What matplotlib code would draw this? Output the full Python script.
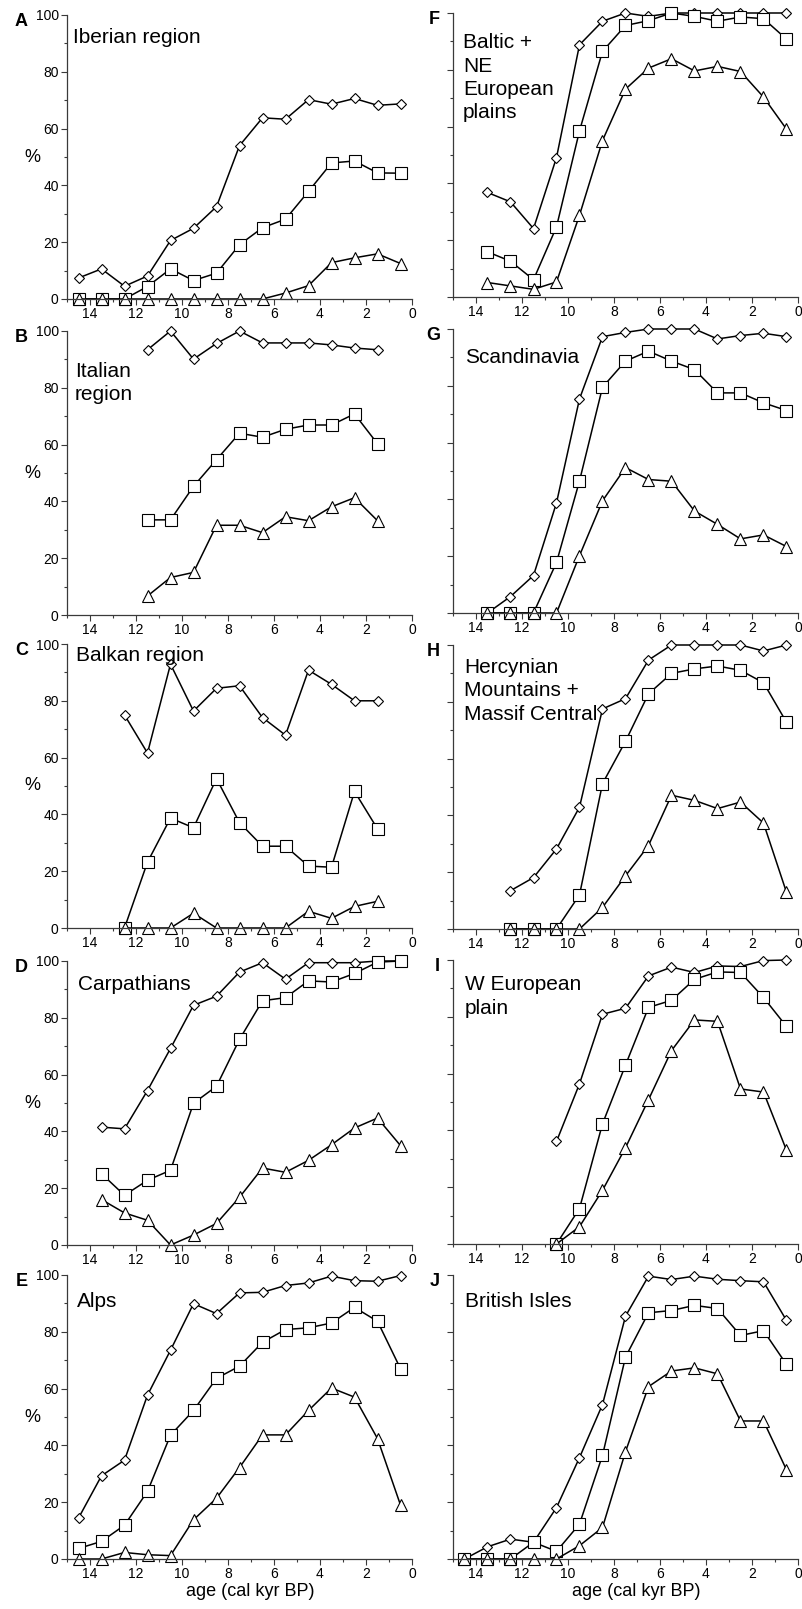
import numpy as np
import matplotlib.pyplot as plt
from matplotlib.ticker import MultipleLocator

plt.rcParams['font.family'] = ['Liberation Sans', 'DejaVu Sans']

n = np.nan
ages = [14.5, 13.5, 12.5, 11.5, 10.5, 9.5, 8.5, 7.5, 6.5, 5.5, 4.5, 3.5, 2.5, 1.5, 0.5]

# A - Iberian region
iberian_diamond = [7.4, 10.6, 4.5, 8.1, 20.6, 24.9, 32.5, 54, 63.8, 63.3, 70.2, 68.6, 70.6, 68.2, 68.7]
iberian_square = [0, 0, 0, 4.4, 10.6, 6.5, 9.1, 19.1, 25.1, 28.1, 37.9, 47.9, 48.6, 44.4, 44.3]
iberian_triangle = [0, 0, 0, 0, 0, 0, 0, 0, 0, 2.1, 4.7, 12.8, 14.5, 15.9, 12.5]

# B - Italian region
italian_diamond = [n, n, n, 93.4, 100, 90.1, 95.6, 100, 95.8, 95.8, 95.8, 95.1, 94, 93.4, n]
italian_square = [n, n, n, 33.5, 33.5, 45.3, 54.7, 64, 62.6, 65.4, 66.9, 66.9, 70.8, 60.3, n]
italian_triangle = [n, n, n, 6.7, 13.2, 15, 31.6, 31.6, 29, 34.6, 33.2, 38.1, 41.3, 33.2, n]

# C - Balkan region
balkan_diamond = [n, n, 75, 61.6, 92.9, 76.4, 84.4, 85.3, 74.1, 67.9, 90.8, 85.8, 80, 80, n]
balkan_square = [n, n, 0, 23.2, 38.7, 35.3, 52.6, 37.1, 28.8, 28.8, 21.8, 21.4, 48.1, 34.9, n]
balkan_triangle = [n, n, 0, 0, 0, 5.2, 0, 0, 0, 0, 5.9, 3.4, 7.6, 9.4, n]

# D - Carpathians
carpathian_diamond = [n, 41.5, 40.9, 54.4, 69.2, 84.4, 87.6, 96.1, 99.4, 93.6, 99.4, 99.4, 99.4, 100, 100]
carpathian_square = [n, 25.1, 17.5, 22.8, 26.3, 49.9, 55.9, 72.4, 86, 87.1, 93, 92.6, 95.6, 99.6, 100]
carpathian_triangle = [n, 16, 11.3, 8.7, 0, 3.5, 7.6, 16.8, 27.1, 25.6, 29.8, 35.3, 41.2, 44.7, 35]

# E - Alps
alps_diamond = [14.4, 29.3, 34.8, 57.7, 73.5, 89.9, 86.4, 93.7, 93.9, 96.3, 97.2, 99.6, 98, 97.8, 99.8]
alps_square = [3.7, 6.2, 11.9, 23.8, 43.6, 52.3, 63.6, 67.9, 76.3, 80.8, 81.4, 83.1, 88.6, 83.7, 67]
alps_triangle = [0, 0, 2.3, 1.5, 1.2, 13.8, 21.4, 32.2, 43.7, 43.7, 52.3, 60.2, 57, 42.4, 19]

# F - Baltic + NE European plains
baltic_diamond = [n, 36.8, 33.5, 24.1, 49.1, 88.8, 97.1, 100, 98.8, 100, 100, 100, 100, 100, 100]
baltic_square = [n, 15.9, 12.6, 6.1, 24.7, 58.5, 86.5, 95.6, 97.3, 100, 98.8, 97.1, 98.6, 98, 90.8]
baltic_triangle = [n, 5.1, 3.9, 2.7, 5.3, 28.8, 55.1, 73.2, 80.6, 83.9, 79.6, 81.2, 79.4, 70.4, 59.1]

# G - Scandinavia
scandinavia_diamond = [n, 0, 5.8, 13.2, 38.8, 75.4, 97.3, 98.8, 100, 100, 100, 96.5, 97.7, 98.5, 97.3]
scandinavia_square = [n, 0, 0, 0, 17.8, 46.5, 79.5, 88.7, 92.2, 88.7, 85.7, 77.5, 77.5, 74, 71.3]
scandinavia_triangle = [n, 0, 0, 0, 0, 20.2, 39.5, 51.2, 47, 46.4, 35.9, 31.2, 26.1, 27.5, 23.4]

# H - Hercynian Mountains + Massif Central
hercynian_diamond = [n, n, 13.5, 18.1, 28.2, 42.9, 77.5, 81.1, 94.7, 100, 100, 100, 100, 97.9, 100]
hercynian_square = [n, n, 0, 0, 0, 12, 51.2, 66.1, 82.8, 90, 91.6, 92.6, 91.1, 86.7, 72.8]
hercynian_triangle = [n, n, 0, 0, 0, 0, 7.6, 18.7, 29.4, 47.1, 45.3, 42.4, 44.7, 37.3, 12.9]

# I - W European plain
weurope_diamond = [n, n, n, n, 36.1, 56.4, 80.9, 83, 94.4, 97.5, 95.6, 97.9, 97.7, 99.8, 100]
weurope_square = [n, n, n, n, 0, 12.5, 42.3, 63, 83.3, 85.8, 93.2, 95.8, 95.6, 86.8, 76.6]
weurope_triangle = [n, n, n, n, 0, 6.1, 18.9, 33.9, 50.8, 68.1, 78.9, 78.4, 54.6, 53.5, 33]

# J - British Isles
british_diamond = [0, 4.3, 7, 5.9, 18.1, 35.7, 54.4, 85.5, 99.6, 98.4, 99.6, 98.5, 98, 97.6, 84]
british_square = [0, 0, 0, 5.9, 2.7, 12.3, 36.5, 71.1, 86.7, 87.5, 89.3, 88.2, 78.7, 80.4, 68.5]
british_triangle = [0, 0, 0, 0, 0, 4.7, 11.1, 37.8, 60.7, 66.2, 67.3, 65.2, 48.6, 48.6, 31.4]

letters = ['A', 'B', 'C', 'D', 'E', 'F', 'G', 'H', 'I', 'J']
titles = ['Iberian region', 'Italian\nregion', 'Balkan region', 'Carpathians', 'Alps',
          'Baltic +\nNE\nEuropean\nplains', 'Scandinavia',
          'Hercynian\nMountains +\nMassif Central', 'W European\nplain', 'British Isles']
series = [
    (iberian_diamond, iberian_square, iberian_triangle),
    (italian_diamond, italian_square, italian_triangle),
    (balkan_diamond, balkan_square, balkan_triangle),
    (carpathian_diamond, carpathian_square, carpathian_triangle),
    (alps_diamond, alps_square, alps_triangle),
    (baltic_diamond, baltic_square, baltic_triangle),
    (scandinavia_diamond, scandinavia_square, scandinavia_triangle),
    (hercynian_diamond, hercynian_square, hercynian_triangle),
    (weurope_diamond, weurope_square, weurope_triangle),
    (british_diamond, british_square, british_triangle),
]

# layout in pixels
W, H = 803, 1609
col_left = [67, 453]
col_width = 345
row_tops = [[15, 331, 644, 961, 1275], [13, 329, 645, 960, 1275]]
row_height = 284
title_dx = [6, 8, 9, 11, 10, 10, 12, 11, 12, 12]
title_dy = [13, 31, 2, 14, 17, 20, 19, 13, 15, 17]

fig = plt.figure(figsize=(W / 100, H / 100), dpi=100)
axis_color = '#3a3a3a'

for i in range(10):
    col, row = divmod(i, 5)
    left = col_left[col]
    top = row_tops[col][row]
    ax = fig.add_axes([left / W, 1 - (top + row_height) / H, col_width / W, row_height / H])

    d, s, t = series[i]
    style = dict(color='black', lw=1.1, mfc='white', mec='black', mew=0.8, clip_on=False)
    ax.plot(ages, d, marker='D', ms=5.5, **style)
    ax.plot(ages, s, marker='s', ms=8, **style)
    ax.plot(ages, t, marker='^', ms=9, **style)

    ax.set_xlim(15, 0)
    ax.set_ylim(0, 100)
    for side in ['top', 'right']:
        ax.spines[side].set_visible(False)
    for side in ['left', 'bottom']:
        ax.spines[side].set_color(axis_color)
        ax.spines[side].set_linewidth(0.9)

    ax.xaxis.set_major_locator(MultipleLocator(2))
    ax.xaxis.set_minor_locator(MultipleLocator(1))
    ax.yaxis.set_major_locator(MultipleLocator(20))
    ax.yaxis.set_minor_locator(MultipleLocator(10))
    ax.tick_params(which='major', length=4, width=0.8, color=axis_color, labelsize=10, pad=2)
    ax.tick_params(which='minor', length=2.5, width=0.8, color=axis_color)
    ax.set_xticks(range(0, 15, 2))
    ax.set_xticklabels([str(v) for v in range(0, 15, 2)])

    if col == 0:
        ax.set_yticks(range(0, 101, 20))
        ax.set_yticklabels([str(v) for v in range(0, 101, 20)])
        ax.set_ylabel('%', rotation=0, fontsize=13, va='center', ha='center')
        ax.yaxis.set_label_coords(-0.101, 0.5)
    else:
        ax.tick_params(labelleft=False)

    if row == 4:
        ax.set_xlabel('age (cal kyr BP)', fontsize=13)
        ax.xaxis.set_label_coords(0.53, -0.085)

    # panel letter
    letter_x = 28 if col == 0 else 440
    fig.text(letter_x / W, 1 - (top + 11) / H, letters[i], fontsize=13, fontweight='bold',
             ha='right', va='baseline')

    # region title
    fig.text((left + title_dx[i]) / W, 1 - (top + title_dy[i]) / H, titles[i], fontsize=15,
             ha='left', va='top', linespacing=1.3)

fig.savefig('out.png', dpi=100)
